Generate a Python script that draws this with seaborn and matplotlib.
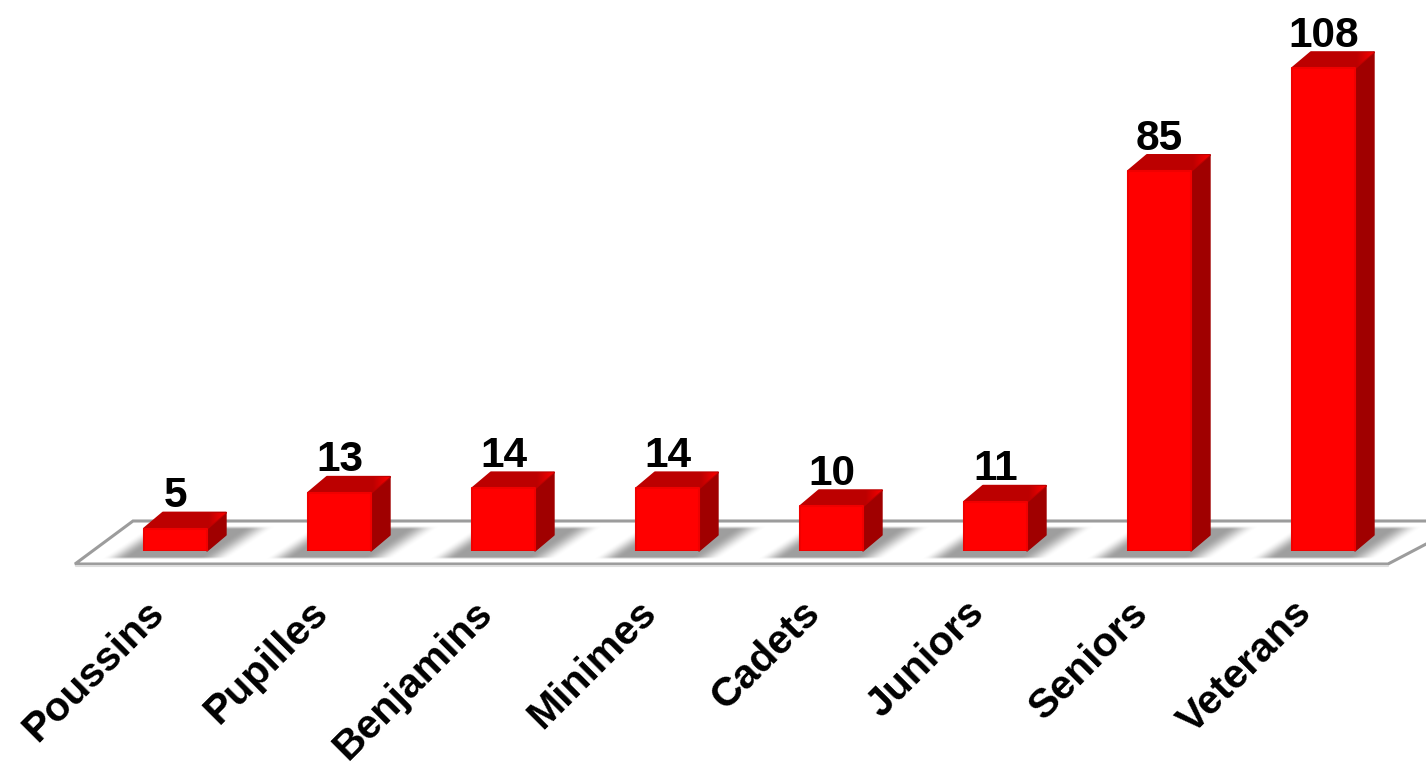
import numpy as np
import seaborn as sns
import matplotlib.pyplot as plt
from matplotlib.patches import Polygon
from matplotlib.transforms import ScaledTranslation

categories = ["Poussins", "Pupilles", "Benjamins", "Minimes", "Cadets", "Juniors", "Seniors", "Veterans"]
values = [5, 13, 14, 14, 10, 11, 85, 108]

sns.set_theme(style="white")
plt.rcParams['font.family'] = ['Liberation Sans', 'DejaVu Sans']

W, H = 1426, 766
BASE = 551        # pixel row of the value 0
STEP = 164        # pixels between two categories
FIRST = 175.5     # pixel column of the first category
UNIT = 4.47       # pixels per unit of value


def dx(px):
    return px / STEP


def dy(px):
    return px / UNIT


def fx(px):
    return (px - FIRST) / STEP


def fy(px):
    return (BASE - px) / UNIT


def smooth(t):
    t = np.clip(t, 0, 1)
    return t * t * (3 - 2 * t)


fig = plt.figure(figsize=(W / 100, H / 100), dpi=100, facecolor="white")
ax = fig.add_axes([0, (H - BASE) / H, 1, BASE / H])

sns.barplot(x=categories, y=values, color="#ff0000", saturation=1, width=63 / STEP,
            edgecolor="#f00000", linewidth=1.5, zorder=4, ax=ax)
bars = list(ax.containers[0])

# floor
ax.add_patch(Polygon([(fx(75), fy(564)), (fx(133), fy(521)), (fx(1470), fy(521)), (fx(1388), fy(564))],
                     closed=True, facecolor="white", edgecolor="#9c9c9c", linewidth=2.2,
                     clip_on=False, zorder=1))
ax.plot([fx(76), fx(1388)], [fy(566), fy(566)], color="#dddddd", lw=1.5, clip_on=False, zorder=1)

ramp_x = np.linspace(0, 1, 64)
for bar in bars:
    bar.set_joinstyle("round")
    x0 = FIRST + bar.get_x() * STEP
    x1 = x0 + bar.get_width() * STEP

    # shadow, sheared and faded at both ends
    xs, ys = np.meshgrid(np.arange(x0 - 60, x1 + 90), np.arange(524, 560))
    u = xs + 1.5 * (ys - 557)
    left = smooth((u - (x0 - 42)) / 26)
    right = smooth(((x1 + 22) - u) / 30)
    fade = smooth((ys - 525) / 4) * smooth((559 - ys) / 3)
    img = np.ones(xs.shape + (4,)) * 0.62
    img[..., 3] = left * right * fade
    ax.imshow(img, extent=[fx(x0 - 60), fx(x1 + 90), fy(560), fy(524)], aspect="auto",
              interpolation="bilinear", clip_on=False, zorder=2)

    # side and top faces, built from the bar itself
    d_x, d_y = dx(19), dy(16)
    bx0, bx1, top = bar.get_x(), bar.get_x() + bar.get_width(), bar.get_height()
    ax.add_patch(Polygon([(bx1, 0), (bx1 + d_x, d_y), (bx1 + d_x, top + d_y), (bx1, top)],
                         closed=True, facecolor="#a00000", edgecolor="#a00000", linewidth=1,
                         joinstyle="round", clip_on=False, zorder=3))
    top_face = Polygon([(bx0, top), (bx0 + d_x, top + d_y), (bx1 + d_x, top + d_y), (bx1, top)],
                       closed=True, facecolor="#be0000", edgecolor="#be0000", linewidth=1.5,
                       joinstyle="round", clip_on=False, zorder=3)
    ax.add_patch(top_face)
    ramp = np.zeros((1, 64, 4))
    ramp[..., 0] = np.where(ramp_x < 0.8, 0.74, 0.74 + (ramp_x - 0.8) * 1.2)
    ramp[..., 3] = 1
    glow = ax.imshow(ramp, extent=[bx0, bx1 + d_x, top, top + d_y], aspect="auto",
                     interpolation="bilinear", zorder=3.5)
    glow.set_clip_path(top_face)

ax.bar_label(ax.containers[0], labels=[str(v) for v in values], padding=9, fontsize=30.5,
             fontweight="bold", color="black", zorder=6)

ax.set_xlim(fx(0), fx(W))
ax.set_ylim(0, fy(0))
ax.set_yticks([])
ax.set_xlabel("")
ax.set_ylabel("")
ax.tick_params(axis="x", length=0, pad=29)
ax.set_xticks(range(len(categories)))
ax.set_xticklabels(categories, rotation=45, ha="right", rotation_mode="anchor",
                   fontsize=29.5, fontweight="bold", color="black")
shift = ScaledTranslation(-31 / 100, -2 / 100, fig.dpi_scale_trans)
for label in ax.get_xticklabels():
    label.set_transform(label.get_transform() + shift)
sns.despine(ax=ax, left=True, bottom=True)
ax.patch.set_alpha(0)

fig.savefig("out.png", dpi=100)
